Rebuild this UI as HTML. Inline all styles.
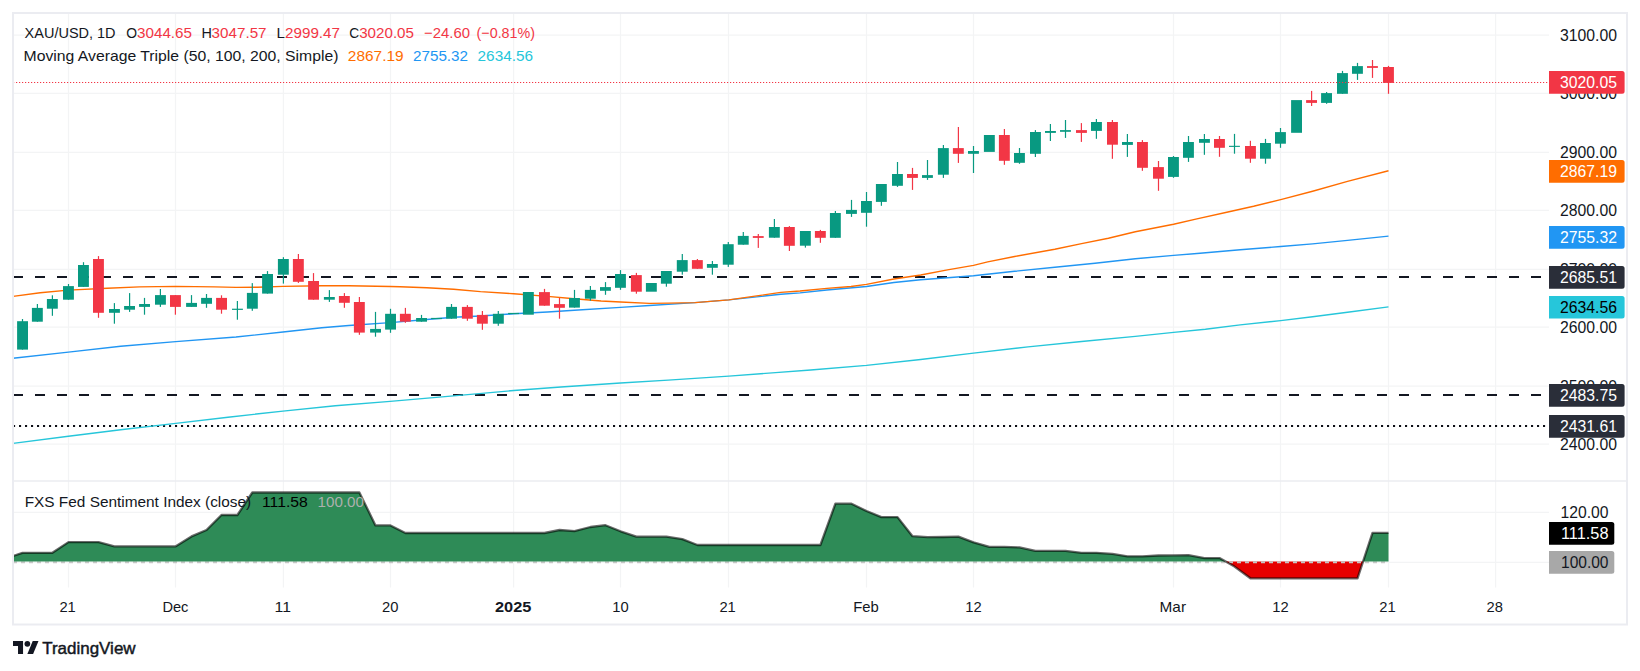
<!DOCTYPE html>
<html lang="en"><head><meta charset="utf-8"><title>XAU/USD 1D chart</title>
<style>html,body{margin:0;padding:0;background:#fff}body{width:1640px;height:671px;overflow:hidden}svg{display:block}text{font-family:"Liberation Sans","DejaVu Sans",sans-serif;font-size:15px;fill:#131722}.ax{fill:#131722;font-size:16px}.w{fill:#fff}</style></head><body>
<svg width="1640" height="671" viewBox="0 0 1640 671">
<rect width="1640" height="671" fill="#fff"/>
<g stroke="#f3f4f5" stroke-width="1.25">
<line x1="68.5" y1="14" x2="68.5" y2="587.5"/>
<line x1="175.5" y1="14" x2="175.5" y2="587.5"/>
<line x1="283.4" y1="14" x2="283.4" y2="587.5"/>
<line x1="390.5" y1="14" x2="390.5" y2="587.5"/>
<line x1="513.6" y1="14" x2="513.6" y2="587.5"/>
<line x1="620.5" y1="14" x2="620.5" y2="587.5"/>
<line x1="728.5" y1="14" x2="728.5" y2="587.5"/>
<line x1="866.5" y1="14" x2="866.5" y2="587.5"/>
<line x1="973.5" y1="14" x2="973.5" y2="587.5"/>
<line x1="1173.5" y1="14" x2="1173.5" y2="587.5"/>
<line x1="1280.5" y1="14" x2="1280.5" y2="587.5"/>
<line x1="1388.5" y1="14" x2="1388.5" y2="587.5"/>
<line x1="1495.6" y1="14" x2="1495.6" y2="587.5"/>
<line x1="14" y1="35.0" x2="1549" y2="35.0"/>
<line x1="14" y1="93.3" x2="1549" y2="93.3"/>
<line x1="14" y1="152.3" x2="1549" y2="152.3"/>
<line x1="14" y1="210.4" x2="1549" y2="210.4"/>
<line x1="14" y1="269.3" x2="1549" y2="269.3"/>
<line x1="14" y1="327.2" x2="1549" y2="327.2"/>
<line x1="14" y1="386.0" x2="1549" y2="386.0"/>
<line x1="14" y1="444.0" x2="1549" y2="444.0"/>
<line x1="14" y1="512.4" x2="1549" y2="512.4"/>
<line x1="14" y1="562.3" x2="1549" y2="562.3"/>
</g>
<g stroke="#131722" stroke-width="2.2" fill="none">
<line x1="13" y1="277" x2="1549" y2="277" stroke-dasharray="10 12"/>
<line x1="13" y1="395" x2="1549" y2="395" stroke-dasharray="10 12"/>
<line x1="13" y1="426" x2="1549" y2="426" stroke-dasharray="2.1 3.9" stroke="#0c0e15"/>
</g>
<polyline points="13.0,443.4 68.4,436.3 120.7,429.8 175.7,423.4 228.0,417.2 283.0,411.1 335.3,405.7 390.2,401.4 453.6,395.9 513.7,390.5 560.9,387.0 620.5,383.0 668.2,380.1 728.8,376.1 775.5,372.6 810.7,370.0 866.5,365.4 920.7,359.5 973.5,353.1 1028.0,346.9 1081.6,341.5 1135.3,336.4 1173.6,332.4 1205.4,329.2 1240.2,324.9 1280.7,320.6 1312.6,316.8 1347.5,312.3 1388.5,306.9" fill="none" stroke="#26c6da" stroke-width="1.4" stroke-linejoin="round"/>
<polyline points="13.0,358.3 68.4,352.1 120.7,346.2 175.7,341.6 236.0,337.0 283.0,332.0 321.8,327.7 348.7,325.5 390.2,322.6 426.8,319.5 453.6,317.2 480.5,316.0 513.7,313.8 547.5,312.0 574.3,310.3 620.5,307.4 649.4,305.5 695.0,302.6 728.8,299.9 756.7,296.9 780.8,294.3 800.0,292.9 826.8,290.0 866.5,286.5 893.9,282.5 920.7,279.8 947.5,277.7 973.5,275.8 1014.6,271.3 1054.8,267.2 1095.0,263.2 1135.3,258.7 1173.6,255.4 1200.0,253.3 1240.2,249.8 1280.7,246.5 1312.6,243.9 1347.5,240.4 1388.5,236.1" fill="none" stroke="#2196f3" stroke-width="1.4" stroke-linejoin="round"/>
<polyline points="13.0,296.4 40.2,292.8 68.4,290.1 107.3,288.2 139.5,286.9 175.7,286.4 214.6,286.9 236.0,287.4 257.5,287.2 283.0,286.4 321.8,285.8 348.7,285.8 390.2,286.5 400.0,286.7 426.8,287.8 453.6,289.2 480.5,291.6 513.7,293.7 547.5,296.4 574.3,298.8 601.1,301.0 620.5,302.0 649.4,303.4 668.2,303.1 695.0,302.6 728.8,299.9 756.7,295.9 780.8,292.4 800.0,291.0 826.8,288.4 851.0,286.5 866.5,284.4 893.9,279.0 920.7,275.0 947.5,269.9 973.5,265.4 987.7,261.9 1014.6,256.5 1054.8,249.3 1081.6,243.6 1108.4,238.3 1135.3,231.8 1173.6,224.3 1196.9,218.9 1226.8,212.2 1253.6,206.3 1280.7,199.6 1312.6,191.3 1347.5,181.4 1388.5,170.7" fill="none" stroke="#ff6d00" stroke-width="1.4" stroke-linejoin="round"/>
<g fill="#089981">
<rect x="21.90" y="319.0" width="1.2" height="30.6"/>
<rect x="17.1" y="321.2" width="10.9" height="28.4"/>
<rect x="36.80" y="304.0" width="1.2" height="17.7"/>
<rect x="31.9" y="307.9" width="10.9" height="13.8"/>
<rect x="51.80" y="295.3" width="1.2" height="20.5"/>
<rect x="46.9" y="299.0" width="10.9" height="9.7"/>
<rect x="67.90" y="284.0" width="1.2" height="15.7"/>
<rect x="63.0" y="286.1" width="10.9" height="13.6"/>
<rect x="82.90" y="262.2" width="1.2" height="24.7"/>
<rect x="78.0" y="265.0" width="10.9" height="21.9"/>
<rect x="113.80" y="303.1" width="1.2" height="20.6"/>
<rect x="109.0" y="309.0" width="10.9" height="3.8"/>
<rect x="129.00" y="293.1" width="1.2" height="18.8"/>
<rect x="124.1" y="306.0" width="10.9" height="3.7"/>
<rect x="143.90" y="297.9" width="1.2" height="16.8"/>
<rect x="139.1" y="304.0" width="10.9" height="2.9"/>
<rect x="159.80" y="289.0" width="1.2" height="17.9"/>
<rect x="155.0" y="295.1" width="10.9" height="9.6"/>
<rect x="190.90" y="295.1" width="1.2" height="11.8"/>
<rect x="186.1" y="302.9" width="10.9" height="4.0"/>
<rect x="205.90" y="294.0" width="1.2" height="13.8"/>
<rect x="201.1" y="297.9" width="10.9" height="5.9"/>
<rect x="236.80" y="301.0" width="1.2" height="18.7"/>
<rect x="232.0" y="308.7" width="10.9" height="1.2"/>
<rect x="251.70" y="283.1" width="1.2" height="27.7"/>
<rect x="246.9" y="292.9" width="10.9" height="15.8"/>
<rect x="266.90" y="271.1" width="1.2" height="22.5"/>
<rect x="262.1" y="274.0" width="10.9" height="19.6"/>
<rect x="282.80" y="257.2" width="1.2" height="26.4"/>
<rect x="277.9" y="259.0" width="10.9" height="15.7"/>
<rect x="328.80" y="290.1" width="1.2" height="11.8"/>
<rect x="323.9" y="297.0" width="10.9" height="2.7"/>
<rect x="374.90" y="311.9" width="1.2" height="24.8"/>
<rect x="370.1" y="328.9" width="10.9" height="3.7"/>
<rect x="389.90" y="308.8" width="1.2" height="24.0"/>
<rect x="385.1" y="313.8" width="10.9" height="15.8"/>
<rect x="420.90" y="314.9" width="1.2" height="6.8"/>
<rect x="416.1" y="318.0" width="10.9" height="3.7"/>
<rect x="431.1" y="317.9" width="10.9" height="1.2"/>
<rect x="450.90" y="304.0" width="1.2" height="14.7"/>
<rect x="446.1" y="306.9" width="10.9" height="11.8"/>
<rect x="497.70" y="311.0" width="1.2" height="14.8"/>
<rect x="492.9" y="313.8" width="10.9" height="9.9"/>
<rect x="508.1" y="312.9" width="10.9" height="1.2"/>
<rect x="522.9" y="292.0" width="10.9" height="22.7"/>
<rect x="573.90" y="289.9" width="1.2" height="17.7"/>
<rect x="569.0" y="298.0" width="10.9" height="9.6"/>
<rect x="589.80" y="286.0" width="1.2" height="14.7"/>
<rect x="584.9" y="289.9" width="10.9" height="8.8"/>
<rect x="604.90" y="282.1" width="1.2" height="12.7"/>
<rect x="600.0" y="287.1" width="10.9" height="3.7"/>
<rect x="619.90" y="270.1" width="1.2" height="19.7"/>
<rect x="615.0" y="274.0" width="10.9" height="13.8"/>
<rect x="645.9" y="283.0" width="10.9" height="8.7"/>
<rect x="665.80" y="271.0" width="1.2" height="15.7"/>
<rect x="660.9" y="271.0" width="10.9" height="12.7"/>
<rect x="681.70" y="254.0" width="1.2" height="20.7"/>
<rect x="676.8" y="260.1" width="10.9" height="11.6"/>
<rect x="711.80" y="261.0" width="1.2" height="13.7"/>
<rect x="706.9" y="264.0" width="10.9" height="3.8"/>
<rect x="727.70" y="242.0" width="1.2" height="24.9"/>
<rect x="722.8" y="244.2" width="10.9" height="20.5"/>
<rect x="742.70" y="232.0" width="1.2" height="12.7"/>
<rect x="737.8" y="235.9" width="10.9" height="8.8"/>
<rect x="773.80" y="219.0" width="1.2" height="18.7"/>
<rect x="768.9" y="227.0" width="10.9" height="10.7"/>
<rect x="804.80" y="231.0" width="1.2" height="16.6"/>
<rect x="799.9" y="231.0" width="10.9" height="14.7"/>
<rect x="834.80" y="211.0" width="1.2" height="26.8"/>
<rect x="829.9" y="213.0" width="10.9" height="24.8"/>
<rect x="850.90" y="199.9" width="1.2" height="17.0"/>
<rect x="846.0" y="209.9" width="10.9" height="4.0"/>
<rect x="865.90" y="192.0" width="1.2" height="34.7"/>
<rect x="861.0" y="201.0" width="10.9" height="11.8"/>
<rect x="880.80" y="184.0" width="1.2" height="21.8"/>
<rect x="875.9" y="184.0" width="10.9" height="17.9"/>
<rect x="896.90" y="162.0" width="1.2" height="24.9"/>
<rect x="892.0" y="174.0" width="10.9" height="11.8"/>
<rect x="926.90" y="160.0" width="1.2" height="19.9"/>
<rect x="922.0" y="175.1" width="10.9" height="2.8"/>
<rect x="942.80" y="145.0" width="1.2" height="32.9"/>
<rect x="937.9" y="148.1" width="10.9" height="26.6"/>
<rect x="972.90" y="146.0" width="1.2" height="27.0"/>
<rect x="968.0" y="151.0" width="10.9" height="2.8"/>
<rect x="983.9" y="135.0" width="10.9" height="16.9"/>
<rect x="1018.90" y="148.0" width="1.2" height="15.8"/>
<rect x="1014.0" y="153.0" width="10.9" height="9.8"/>
<rect x="1034.80" y="130.1" width="1.2" height="26.9"/>
<rect x="1030.0" y="132.0" width="10.9" height="21.8"/>
<rect x="1049.80" y="124.0" width="1.2" height="17.0"/>
<rect x="1045.0" y="131.0" width="10.9" height="1.9"/>
<rect x="1064.90" y="120.0" width="1.2" height="17.9"/>
<rect x="1060.0" y="130.1" width="10.9" height="1.7"/>
<rect x="1095.80" y="119.0" width="1.2" height="19.8"/>
<rect x="1091.0" y="122.0" width="10.9" height="8.9"/>
<rect x="1126.80" y="134.0" width="1.2" height="22.9"/>
<rect x="1122.0" y="142.0" width="10.9" height="2.9"/>
<rect x="1172.90" y="156.0" width="1.2" height="21.8"/>
<rect x="1168.0" y="157.0" width="10.9" height="19.9"/>
<rect x="1187.90" y="136.0" width="1.2" height="25.9"/>
<rect x="1183.0" y="142.0" width="10.9" height="15.8"/>
<rect x="1203.80" y="134.0" width="1.2" height="20.8"/>
<rect x="1199.0" y="139.0" width="10.9" height="3.8"/>
<rect x="1233.90" y="133.9" width="1.2" height="19.8"/>
<rect x="1229.0" y="145.8" width="10.9" height="1.1"/>
<rect x="1264.90" y="138.9" width="1.2" height="24.8"/>
<rect x="1260.0" y="143.0" width="10.9" height="15.7"/>
<rect x="1279.90" y="128.0" width="1.2" height="19.8"/>
<rect x="1275.0" y="132.1" width="10.9" height="11.6"/>
<rect x="1291.1" y="100.1" width="10.9" height="32.7"/>
<rect x="1326.00" y="92.0" width="1.2" height="11.8"/>
<rect x="1321.1" y="93.1" width="10.9" height="9.8"/>
<rect x="1341.90" y="70.9" width="1.2" height="22.9"/>
<rect x="1337.0" y="73.1" width="10.9" height="20.7"/>
<rect x="1356.90" y="62.9" width="1.2" height="17.0"/>
<rect x="1352.0" y="66.1" width="10.9" height="7.7"/>
</g>
<g fill="#f23645">
<rect x="97.90" y="256.1" width="1.2" height="61.7"/>
<rect x="93.0" y="259.0" width="10.9" height="53.8"/>
<rect x="174.80" y="295.1" width="1.2" height="19.6"/>
<rect x="170.0" y="295.1" width="10.9" height="11.8"/>
<rect x="220.90" y="295.3" width="1.2" height="18.4"/>
<rect x="216.1" y="297.9" width="10.9" height="11.8"/>
<rect x="297.80" y="254.0" width="1.2" height="28.9"/>
<rect x="292.9" y="259.0" width="10.9" height="22.8"/>
<rect x="312.90" y="273.1" width="1.2" height="26.6"/>
<rect x="308.1" y="281.0" width="10.9" height="18.7"/>
<rect x="343.80" y="293.1" width="1.2" height="14.7"/>
<rect x="338.9" y="296.0" width="10.9" height="6.8"/>
<rect x="358.80" y="297.0" width="1.2" height="37.8"/>
<rect x="353.9" y="302.0" width="10.9" height="30.6"/>
<rect x="404.80" y="307.9" width="1.2" height="14.9"/>
<rect x="399.9" y="313.8" width="10.9" height="7.9"/>
<rect x="466.80" y="305.1" width="1.2" height="15.7"/>
<rect x="461.9" y="306.9" width="10.9" height="11.8"/>
<rect x="481.80" y="311.0" width="1.2" height="18.8"/>
<rect x="476.9" y="314.9" width="10.9" height="8.8"/>
<rect x="543.90" y="288.9" width="1.2" height="16.8"/>
<rect x="539.0" y="292.1" width="10.9" height="13.6"/>
<rect x="558.90" y="298.0" width="1.2" height="20.7"/>
<rect x="554.0" y="304.1" width="10.9" height="3.7"/>
<rect x="635.80" y="272.9" width="1.2" height="20.8"/>
<rect x="630.9" y="275.1" width="10.9" height="16.6"/>
<rect x="696.80" y="259.0" width="1.2" height="9.8"/>
<rect x="691.9" y="260.1" width="10.9" height="8.7"/>
<rect x="757.70" y="234.0" width="1.2" height="13.9"/>
<rect x="752.8" y="236.1" width="10.9" height="1.8"/>
<rect x="788.80" y="226.1" width="1.2" height="24.9"/>
<rect x="783.9" y="227.0" width="10.9" height="18.8"/>
<rect x="819.80" y="229.9" width="1.2" height="12.9"/>
<rect x="814.9" y="231.0" width="10.9" height="6.8"/>
<rect x="911.90" y="167.9" width="1.2" height="22.0"/>
<rect x="907.0" y="174.0" width="10.9" height="3.9"/>
<rect x="957.80" y="127.0" width="1.2" height="35.9"/>
<rect x="952.9" y="148.1" width="10.9" height="5.7"/>
<rect x="1003.80" y="129.0" width="1.2" height="35.8"/>
<rect x="998.9" y="135.0" width="10.9" height="25.8"/>
<rect x="1080.80" y="123.1" width="1.2" height="18.8"/>
<rect x="1076.0" y="130.1" width="10.9" height="2.8"/>
<rect x="1111.80" y="120.0" width="1.2" height="38.8"/>
<rect x="1107.0" y="122.0" width="10.9" height="22.7"/>
<rect x="1141.80" y="140.1" width="1.2" height="30.7"/>
<rect x="1137.0" y="142.0" width="10.9" height="25.8"/>
<rect x="1157.90" y="161.0" width="1.2" height="29.8"/>
<rect x="1153.0" y="167.1" width="10.9" height="11.6"/>
<rect x="1218.90" y="136.0" width="1.2" height="20.8"/>
<rect x="1214.0" y="139.0" width="10.9" height="8.8"/>
<rect x="1249.80" y="140.8" width="1.2" height="22.0"/>
<rect x="1245.0" y="146.0" width="10.9" height="12.7"/>
<rect x="1311.00" y="90.9" width="1.2" height="15.1"/>
<rect x="1306.1" y="100.1" width="10.9" height="2.8"/>
<rect x="1371.90" y="60.0" width="1.2" height="17.9"/>
<rect x="1367.0" y="66.1" width="10.9" height="1.8"/>
<rect x="1387.90" y="65.9" width="1.2" height="27.9"/>
<rect x="1383.0" y="67.0" width="10.9" height="15.9"/>
</g>
<line x1="13" y1="82.5" x2="1549" y2="82.5" stroke="#f23645" stroke-width="1.2" stroke-dasharray="1.2 1.8"/>
<polygon points="1225.7,561.6 1234.5,566.6 1250.4,578.3 1265.5,578.3 1280.5,578.3 1296.6,578.3 1311.6,578.3 1326.6,578.3 1342.5,578.3 1357.5,578.3 1363.0,561.6" fill="#e60000"/>
<line x1="13" y1="562.3" x2="1388.5" y2="562.3" stroke="#c6c6c6" stroke-width="2" stroke-dasharray="4 4"/>
<polygon points="13.0,561.6 13.0,556.0 22.5,552.8 37.4,552.8 52.4,552.8 68.5,542.1 83.5,542.1 98.5,542.1 114.4,546.4 129.6,546.4 144.5,546.4 160.4,546.4 175.4,546.4 191.5,536.4 206.5,530.0 221.5,515.0 237.4,515.0 252.3,492.5 267.5,492.5 283.4,492.5 298.4,492.5 313.5,492.5 329.4,492.5 344.4,492.5 359.4,492.5 375.5,525.4 390.5,525.4 405.4,533.0 421.5,533.0 436.5,533.0 451.5,533.0 467.4,533.0 482.4,533.0 498.3,533.0 513.5,533.0 528.4,533.0 544.5,533.0 559.5,530.0 574.5,531.1 590.4,527.0 605.5,525.2 620.5,531.3 636.4,536.7 651.4,536.7 666.4,536.7 682.3,539.1 697.4,545.0 712.4,545.0 728.3,545.0 743.3,545.0 758.3,545.0 774.4,545.0 789.4,545.0 805.4,545.0 820.4,545.0 835.4,503.7 851.5,503.7 866.5,511.0 881.4,517.1 897.5,517.1 912.5,536.2 927.5,537.2 943.4,537.0 958.4,536.7 973.5,542.3 989.4,546.9 1004.4,546.9 1019.5,547.4 1035.4,550.9 1050.4,550.9 1065.5,550.9 1081.4,552.8 1096.4,552.8 1112.4,553.9 1127.4,556.3 1142.4,556.3 1158.5,555.5 1173.5,555.4 1188.5,555.2 1204.4,558.1 1219.5,558.1 1225.7,561.6 1234.5,561.6 1250.4,561.6 1265.5,561.6 1280.5,561.6 1296.6,561.6 1311.6,561.6 1326.6,561.6 1342.5,561.6 1357.5,561.6 1363.0,561.6 1372.5,532.9 1388.5,532.9 1388.5,561.6" fill="#2e8b57"/>
<polyline points="13.0,556.0 22.5,552.8 37.4,552.8 52.4,552.8 68.5,542.1 83.5,542.1 98.5,542.1 114.4,546.4 129.6,546.4 144.5,546.4 160.4,546.4 175.4,546.4 191.5,536.4 206.5,530.0 221.5,515.0 237.4,515.0 252.3,492.5 267.5,492.5 283.4,492.5 298.4,492.5 313.5,492.5 329.4,492.5 344.4,492.5 359.4,492.5 375.5,525.4 390.5,525.4 405.4,533.0 421.5,533.0 436.5,533.0 451.5,533.0 467.4,533.0 482.4,533.0 498.3,533.0 513.5,533.0 528.4,533.0 544.5,533.0 559.5,530.0 574.5,531.1 590.4,527.0 605.5,525.2 620.5,531.3 636.4,536.7 651.4,536.7 666.4,536.7 682.3,539.1 697.4,545.0 712.4,545.0 728.3,545.0 743.3,545.0 758.3,545.0 774.4,545.0 789.4,545.0 805.4,545.0 820.4,545.0 835.4,503.7 851.5,503.7 866.5,511.0 881.4,517.1 897.5,517.1 912.5,536.2 927.5,537.2 943.4,537.0 958.4,536.7 973.5,542.3 989.4,546.9 1004.4,546.9 1019.5,547.4 1035.4,550.9 1050.4,550.9 1065.5,550.9 1081.4,552.8 1096.4,552.8 1112.4,553.9 1127.4,556.3 1142.4,556.3 1158.5,555.5 1173.5,555.4 1188.5,555.2 1204.4,558.1 1219.5,558.1 1234.5,566.6 1250.4,578.3 1265.5,578.3 1280.5,578.3 1296.6,578.3 1311.6,578.3 1326.6,578.3 1342.5,578.3 1357.5,578.3 1372.5,532.9 1388.5,532.9" fill="none" stroke="#000" stroke-opacity="0.58" stroke-width="2.3" stroke-linejoin="round"/>
<g stroke="#ebecf1" stroke-width="2" fill="none">
<rect x="13" y="13" width="1614" height="611.5"/>
<line x1="13" y1="481" x2="1627" y2="481" stroke-width="1.7"/>
</g>
<text x="1560.0" y="41.0" textLength="57.0" lengthAdjust="spacingAndGlyphs" class="ax">3100.00</text>
<text x="1560.0" y="99.0" textLength="57.0" lengthAdjust="spacingAndGlyphs" class="ax">3000.00</text>
<text x="1560.0" y="158.0" textLength="57.0" lengthAdjust="spacingAndGlyphs" class="ax">2900.00</text>
<text x="1560.0" y="216.0" textLength="57.0" lengthAdjust="spacingAndGlyphs" class="ax">2800.00</text>
<text x="1560.0" y="275.0" textLength="57.0" lengthAdjust="spacingAndGlyphs" class="ax">2700.00</text>
<text x="1560.0" y="333.0" textLength="57.0" lengthAdjust="spacingAndGlyphs" class="ax">2600.00</text>
<text x="1560.0" y="392.0" textLength="57.0" lengthAdjust="spacingAndGlyphs" class="ax">2500.00</text>
<text x="1560.0" y="450.0" textLength="57.0" lengthAdjust="spacingAndGlyphs" class="ax">2400.00</text>
<text x="1560.5" y="518.0" textLength="48.0" lengthAdjust="spacingAndGlyphs" class="ax">120.00</text>
<path d="M1549 71.0H1622.1a2.5 2.5 0 0 1 2.5 2.5V91.2a2.5 2.5 0 0 1 -2.5 2.5H1549z" fill="#f23645"/>
<text x="1560.0" y="88.0" textLength="57.0" lengthAdjust="spacingAndGlyphs" fill="#fff" style="fill:#fff;font-size:16px" font-size="16px">3020.05</text>
<path d="M1549 160.1H1622.1a2.5 2.5 0 0 1 2.5 2.5V180.2a2.5 2.5 0 0 1 -2.5 2.5H1549z" fill="#ff6d00"/>
<text x="1560.0" y="177.0" textLength="57.0" lengthAdjust="spacingAndGlyphs" fill="#fff" style="fill:#fff;font-size:16px" font-size="16px">2867.19</text>
<path d="M1549 226.1H1622.1a2.5 2.5 0 0 1 2.5 2.5V246.2a2.5 2.5 0 0 1 -2.5 2.5H1549z" fill="#2196f3"/>
<text x="1560.0" y="243.0" textLength="57.0" lengthAdjust="spacingAndGlyphs" fill="#fff" style="fill:#fff;font-size:16px" font-size="16px">2755.32</text>
<path d="M1549 266.0H1622.1a2.5 2.5 0 0 1 2.5 2.5V286.2a2.5 2.5 0 0 1 -2.5 2.5H1549z" fill="#2a2e39"/>
<text x="1560.0" y="283.0" textLength="57.0" lengthAdjust="spacingAndGlyphs" fill="#fff" style="fill:#fff;font-size:16px" font-size="16px">2685.51</text>
<path d="M1549 295.9H1622.1a2.5 2.5 0 0 1 2.5 2.5V316.1a2.5 2.5 0 0 1 -2.5 2.5H1549z" fill="#26c6da"/>
<text x="1560.0" y="313.0" textLength="57.0" lengthAdjust="spacingAndGlyphs" fill="#000" style="fill:#000;font-size:16px" font-size="16px">2634.56</text>
<path d="M1549 384.0H1622.1a2.5 2.5 0 0 1 2.5 2.5V404.2a2.5 2.5 0 0 1 -2.5 2.5H1549z" fill="#2a2e39"/>
<text x="1560.0" y="401.0" textLength="57.0" lengthAdjust="spacingAndGlyphs" fill="#fff" style="fill:#fff;font-size:16px" font-size="16px">2483.75</text>
<path d="M1549 415.0H1622.1a2.5 2.5 0 0 1 2.5 2.5V435.2a2.5 2.5 0 0 1 -2.5 2.5H1549z" fill="#2a2e39"/>
<text x="1560.0" y="432.0" textLength="57.0" lengthAdjust="spacingAndGlyphs" fill="#fff" style="fill:#fff;font-size:16px" font-size="16px">2431.61</text>
<path d="M1549 522.0H1611.8a2.5 2.5 0 0 1 2.5 2.5V542.2a2.5 2.5 0 0 1 -2.5 2.5H1549z" fill="#000"/>
<text x="1561.0" y="539.0" textLength="47.5" lengthAdjust="spacingAndGlyphs" fill="#fff" style="fill:#fff;font-size:16px" font-size="16px">111.58</text>
<path d="M1549 551.0H1611.8a2.5 2.5 0 0 1 2.5 2.5V571.2a2.5 2.5 0 0 1 -2.5 2.5H1549z" fill="#a8a8a8"/>
<text x="1561.0" y="568.0" textLength="47.5" lengthAdjust="spacingAndGlyphs" fill="#131722" style="fill:#131722;font-size:16px" font-size="16px">100.00</text>
<text x="24.6" y="38.0" textLength="91.0" lengthAdjust="spacingAndGlyphs">XAU/USD, 1D</text>
<text x="126.2" y="38.0" textLength="10.8" lengthAdjust="spacingAndGlyphs">O</text>
<text x="137.0" y="38.0" textLength="55.0" lengthAdjust="spacingAndGlyphs" fill="#f23645" style="fill:#f23645">3044.65</text>
<text x="201.6" y="38.0" textLength="10.4" lengthAdjust="spacingAndGlyphs">H</text>
<text x="211.6" y="38.0" textLength="55.0" lengthAdjust="spacingAndGlyphs" fill="#f23645" style="fill:#f23645">3047.57</text>
<text x="276.6" y="38.0" textLength="8.4" lengthAdjust="spacingAndGlyphs">L</text>
<text x="285.0" y="38.0" textLength="55.0" lengthAdjust="spacingAndGlyphs" fill="#f23645" style="fill:#f23645">2999.47</text>
<text x="349.3" y="38.0" textLength="9.9" lengthAdjust="spacingAndGlyphs">C</text>
<text x="359.2" y="38.0" textLength="54.8" lengthAdjust="spacingAndGlyphs" fill="#f23645" style="fill:#f23645">3020.05</text>
<text x="424.0" y="38.0" textLength="46.0" lengthAdjust="spacingAndGlyphs" fill="#f23645" style="fill:#f23645">−24.60</text>
<text x="476.6" y="38.0" textLength="58.4" lengthAdjust="spacingAndGlyphs" fill="#f23645" style="fill:#f23645">(−0.81%)</text>
<text x="23.6" y="61.0" textLength="314.8" lengthAdjust="spacingAndGlyphs">Moving Average Triple (50, 100, 200, Simple)</text>
<text x="347.8" y="61.0" textLength="55.8" lengthAdjust="spacingAndGlyphs" fill="#ff6d00" style="fill:#ff6d00">2867.19</text>
<text x="413.0" y="61.0" textLength="55.0" lengthAdjust="spacingAndGlyphs" fill="#2196f3" style="fill:#2196f3">2755.32</text>
<text x="477.6" y="61.0" textLength="55.4" lengthAdjust="spacingAndGlyphs" fill="#26c6da" style="fill:#26c6da">2634.56</text>
<text x="24.7" y="507.0" textLength="226.5" lengthAdjust="spacingAndGlyphs">FXS Fed Sentiment Index (close)</text>
<text x="262.0" y="507.0" textLength="45.8" lengthAdjust="spacingAndGlyphs" fill="#000" style="fill:#000">111.58</text>
<text x="317.6" y="507.0" textLength="46.4" lengthAdjust="spacingAndGlyphs" fill="#adb0ae" style="fill:#adb0ae">100.00</text>
<text x="59.4" y="612.2" textLength="16.4" lengthAdjust="spacingAndGlyphs">21</text>
<text x="162.4" y="612.2" textLength="26.0" lengthAdjust="spacingAndGlyphs">Dec</text>
<text x="274.6" y="612.2" textLength="16.4" lengthAdjust="spacingAndGlyphs">11</text>
<text x="382.0" y="612.2" textLength="16.4" lengthAdjust="spacingAndGlyphs">20</text>
<text x="495.0" y="612.2" textLength="36.4" lengthAdjust="spacingAndGlyphs" font-weight="bold">2025</text>
<text x="612.3" y="612.2" textLength="16.4" lengthAdjust="spacingAndGlyphs">10</text>
<text x="719.4" y="612.2" textLength="16.4" lengthAdjust="spacingAndGlyphs">21</text>
<text x="853.2" y="612.2" textLength="25.6" lengthAdjust="spacingAndGlyphs">Feb</text>
<text x="965.3" y="612.2" textLength="16.4" lengthAdjust="spacingAndGlyphs">12</text>
<text x="1159.6" y="612.2" textLength="26.4" lengthAdjust="spacingAndGlyphs">Mar</text>
<text x="1272.2" y="612.2" textLength="16.4" lengthAdjust="spacingAndGlyphs">12</text>
<text x="1379.2" y="612.2" textLength="16.4" lengthAdjust="spacingAndGlyphs">21</text>
<text x="1486.6" y="612.2" textLength="16.4" lengthAdjust="spacingAndGlyphs">28</text>
<g transform="translate(13 638) scale(0.718 0.73)" fill="#131722">
<path d="M14 22H7V11H0V4h14z"/><circle cx="20" cy="8" r="4"/><path d="M28 22h-8l7.5-18h8z"/>
</g>
<text x="42.2" y="654" textLength="93.4" lengthAdjust="spacingAndGlyphs" style="font-size:17px;fill:#131722;stroke:#131722;stroke-width:0.45px">TradingView</text>
</svg></body></html>
